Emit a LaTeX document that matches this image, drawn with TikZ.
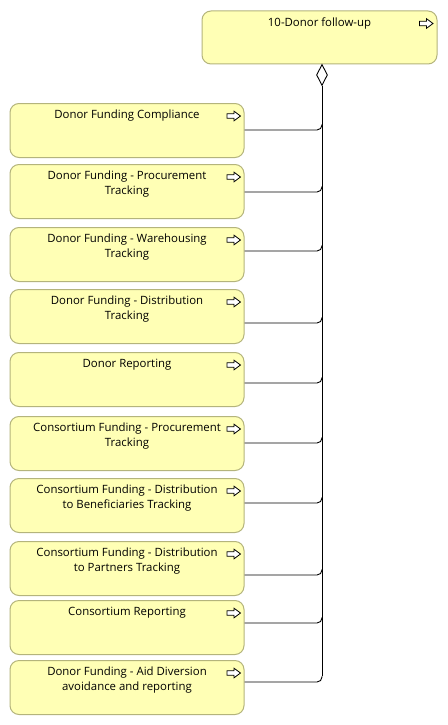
\documentclass[tikz,border=0pt]{standalone}
\usepackage{fontspec}
\setmainfont{Open Sans}
\usetikzlibrary{shapes.geometric}
\definecolor{bizfill}{HTML}{FFFFB5}
\definecolor{bizline}{HTML}{B4B47C}
\tikzset{
	funcbox/.style={draw=bizline, fill=bizfill, line width=1pt, rounded corners=9pt, minimum width=234pt, minimum height=54pt, inner sep=0pt},
	functext/.style={anchor=north, align=center, inner sep=0pt, font=\fontsize{11.4}{15}\selectfont},
	aggdiamond/.style={draw=black, fill=white, diamond, line width=0.9pt, inner sep=0pt, minimum width=11pt, minimum height=21pt},
	link/.style={draw=black, line width=0.9pt, rounded corners=5pt},
	procicon/.pic={\draw[fill=white, line width=0.8pt] (-7,-2.2) -- (0,-2.2) -- (0,-4.8) -- (6.5,0) -- (0,4.8) -- (0,2.2) -- (-7,2.2) -- cycle;}
}
\begin{document}
\begin{tikzpicture}[x=1pt, y=-1pt]
	\fill[white] (0,0) rectangle (447,725);
	\useasboundingbox (0,0) rectangle (447,725);

	%Hauptfunktion oben
	\node[funcbox, minimum width=235pt, minimum height=53pt] (top) at (319.5,37.5) {};
	\node[functext] (toptext) at ([yshift=-7pt]top.north) {10-Donor follow-up};
	\pic at ([xshift=-11pt, yshift=-13pt]top.north east) {procicon};
	\node[aggdiamond, anchor=north] (agg) at (322,64) {};%Aggregation
	\coordinate (bus) at (322,682);%unteres Ende der Sammelleitung
	\draw[link] (agg.south) -- ([yshift=6pt]bus);

	%Unterfunktionen links
	\foreach \i/\ytop/\dy/\txt in {
		1/103/27/{Donor Funding Compliance},
		2/164/28/{Donor Funding - Procurement\\Tracking},
		3/227/24/{Donor Funding - Warehousing\\Tracking},
		4/289/34/{Donor Funding - Distribution\\Tracking},
		5/352/31/{Donor Reporting},
		6/416/27/{Consortium Funding - Procurement\\Tracking},
		7/478/25/{Consortium Funding - Distribution\\to Beneficiaries Tracking},
		8/541/34/{Consortium Funding - Distribution\\to Partners Tracking},
		9/600/23/{Consortium Reporting},
		10/660/22/{Donor Funding - Aid Diversion\\avoidance and reporting}}
	{
		\node[funcbox, anchor=north] (c\i) at (127,\ytop) {};
		\node[functext] (t\i) at ([yshift=-7pt]c\i.north) {\txt};
		\pic at ([xshift=-10.5pt, yshift=-13pt]c\i.north east) {procicon};
		\coordinate (j\i) at ([yshift=-\dy pt]c\i.north east);
		\draw[link] (j\i) -| ([yshift=6pt]j\i -| bus);
	}
\end{tikzpicture}
\end{document}
